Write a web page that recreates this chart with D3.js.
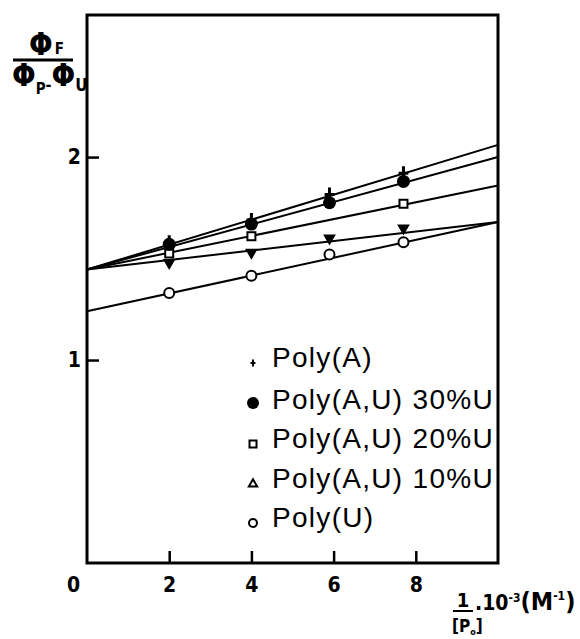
<!DOCTYPE html>
<html>
<head>
<meta charset="utf-8">
<script src="https://cdn.jsdelivr.net/npm/d3@7"></script>
<style>
  body { margin: 0; background: #fff; }
  .bold { font-family: "Liberation Sans Narrow", "DejaVu Sans Condensed", "Liberation Sans", sans-serif; font-weight: bold; }
  .legend text { font-family: "Liberation Sans", Arial, sans-serif; font-size: 28px; letter-spacing: 1.3px; }
</style>
</head>
<body>
<div id="chart"></div>
<script>
// x values of the measured points, 1/[P0] * 10^-3 (M^-1)
const xPoints = [2, 4, 5.9, 7.7];
const xPoints20 = [2, 4, 7.7];

const polyA = [1.58, 1.69, 1.815, 1.92];
const polyAU30 = [1.57, 1.67, 1.775, 1.88];
const polyAU20 = [1.525, 1.61, 1.77];
const polyAU10 = [1.48, 1.53, 1.60, 1.65];
const polyU = [1.33, 1.415, 1.52, 1.58];

// fitted lines: value at x = 0 and at x = 10
const lineStart = [1.446, 1.446, 1.446, 1.446, 1.24];
const lineEnd = [2.06, 2.00, 1.86, 1.68, 1.68];

const legendLabels = ['Poly(A)', 'Poly(A,U) 30%U', 'Poly(A,U) 20%U', 'Poly(A,U) 10%U', 'Poly(U)'];
const xTicks = [0, 2, 4, 6, 8];
const yTicks = [1, 2];

const width = 580, height = 639;
const mLeft = 87, mRight = 498, mTop = 15, mBottom = 563;

const svg = d3.select('#chart').append('svg')
    .attr('width', width)
    .attr('height', height);

const x = d3.scaleLinear().domain([0, 10]).range([mLeft, mRight]);
const y = d3.scaleLinear().domain([0, 2.7]).range([mBottom, mTop]);

// frame
svg.append('rect')
    .attr('x', mLeft).attr('y', mTop)
    .attr('width', mRight - mLeft).attr('height', mBottom - mTop)
    .attr('fill', 'none').attr('stroke', '#000').attr('stroke-width', 3);

// axes, ticks pointing inside
const xAxis = svg.append('g')
    .attr('transform', `translate(0,${mBottom})`)
    .call(d3.axisBottom(x).tickValues(xTicks).tickFormat(d3.format('d')).tickSizeInner(-12).tickSizeOuter(0).tickPadding(14));
const yAxis = svg.append('g')
    .attr('transform', `translate(${mLeft},0)`)
    .call(d3.axisLeft(y).tickValues(yTicks).tickFormat(d3.format('d')).tickSizeInner(-12).tickSizeOuter(0).tickPadding(6));

[xAxis, yAxis].forEach(g => {
    g.select('.domain').remove();
    g.selectAll('.tick line').attr('stroke-width', 2.5);
    g.selectAll('.tick text')
        .attr('class', 'bold')
        .attr('font-size', 21)
        .attr('fill', '#000');
});
xAxis.selectAll('.tick').filter(d => d === 0).select('line').remove();
xAxis.selectAll('.tick').filter(d => d === 0).select('text').attr('dx', -14);

// fitted lines
svg.append('g').selectAll('line')
    .data(lineStart)
    .enter()
    .append('line')
    .attr('x1', x(0)).attr('y1', d => y(d))
    .attr('x2', x(10)).attr('y2', (d, i) => y(lineEnd[i]))
    .attr('stroke', '#000').attr('stroke-width', 2);

// markers
const plus = s => `M${-s * 0.7},0H${s * 0.7}M0,${-s}V${s}`;
const tri = d3.symbol().type(d3.symbolTriangle);

const series = [
    { xs: xPoints, ys: polyAU10, draw: g => g.append('path').attr('d', tri.size(70)()).attr('transform', 'rotate(180)').attr('fill', '#000') },
    { xs: xPoints, ys: polyU, draw: g => g.append('circle').attr('r', 5).attr('fill', '#fff').attr('stroke', '#000').attr('stroke-width', 2) },
    { xs: xPoints20, ys: polyAU20, draw: g => g.append('rect').attr('x', -4).attr('y', -4).attr('width', 8).attr('height', 8).attr('fill', '#fff').attr('stroke', '#000').attr('stroke-width', 2) },
    { xs: xPoints, ys: polyAU30, draw: g => g.append('circle').attr('r', 6.5).attr('fill', '#000') },
    { xs: xPoints, ys: polyA, draw: g => g.append('path').attr('d', plus(7)).attr('stroke', '#000').attr('stroke-width', 3) }
];

series.forEach(s => {
    svg.append('g').selectAll('g')
        .data(s.ys)
        .enter()
        .append('g')
        .attr('transform', (d, i) => `translate(${x(s.xs[i])},${y(d)})`)
        .each(function () { s.draw(d3.select(this)); });
});

// legend
const legendY = [367, 409, 448, 488, 527];
const legendMarks = [
    g => g.append('path').attr('d', plus(3.5)).attr('stroke', '#000').attr('stroke-width', 2),
    g => g.append('circle').attr('r', 6).attr('fill', '#000'),
    g => g.append('rect').attr('x', -3.5).attr('y', -3.5).attr('width', 7).attr('height', 7).attr('fill', '#fff').attr('stroke', '#000').attr('stroke-width', 2),
    g => g.append('path').attr('d', tri.size(30)()).attr('fill', '#fff').attr('stroke', '#000').attr('stroke-width', 2),
    g => g.append('circle').attr('r', 4).attr('fill', '#fff').attr('stroke', '#000').attr('stroke-width', 2)
];
const legend = svg.append('g').attr('class', 'legend');
legendLabels.forEach((label, i) => {
    const row = legend.append('g').attr('transform', `translate(253,${legendY[i]})`);
    legendMarks[i](row.append('g').attr('transform', `translate(0,${i === 1 ? -6 : -4})`));
    row.append('text').attr('x', 19).attr('y', 0).text(label);
});

// y axis title: PhiF / (PhiP - PhiU)
const yt = svg.append('g').attr('class', 'bold').attr('fill', '#000');
const num = yt.append('text').attr('x', 29).attr('y', 55).attr('font-size', 31);
num.append('tspan').text('Φ');
num.append('tspan').attr('dx', 2).attr('dy', -1).attr('font-size', 15).text('F');
yt.append('line').attr('x1', 13).attr('x2', 73).attr('y1', 60).attr('y2', 60).attr('stroke', '#000').attr('stroke-width', 3);
const den = yt.append('text').attr('x', 12).attr('y', 86).attr('font-size', 31);
den.append('tspan').text('Φ');
den.append('tspan').attr('dy', 8).attr('font-size', 15).text('P');
den.append('tspan').attr('dy', -4).attr('font-size', 16).text('-');
den.append('tspan').attr('dy', -4).text('Φ');
den.append('tspan').attr('dy', 5).attr('font-size', 17).text('U');

// x axis title: 1/[P0] . 10^-3 (M^-1)
const xt = svg.append('g').attr('class', 'bold').attr('fill', '#000');
xt.append('text').attr('x', 463).attr('y', 607).attr('font-size', 20).attr('text-anchor', 'middle').text('1');
xt.append('line').attr('x1', 453).attr('x2', 473).attr('y1', 611).attr('y2', 611).attr('stroke', '#000').attr('stroke-width', 2);
const p0 = xt.append('text').attr('x', 452).attr('y', 632).attr('font-size', 17);
p0.append('tspan').text('[P');
p0.append('tspan').attr('dy', 3).attr('font-size', 9).text('o');
p0.append('tspan').attr('dy', -3).text(']');
const xl = xt.append('text').attr('x', 475).attr('y', 610).attr('font-size', 21);
xl.append('tspan').text('.10');
xl.append('tspan').attr('dy', -8).attr('font-size', 12).text('-3');
xl.append('tspan').attr('dy', 8).attr('font-size', 25).text('(M');
xl.append('tspan').attr('dy', -10).attr('font-size', 12).text('-1');
xl.append('tspan').attr('dy', 10).attr('font-size', 25).text(')');
</script>
</body>
</html>
